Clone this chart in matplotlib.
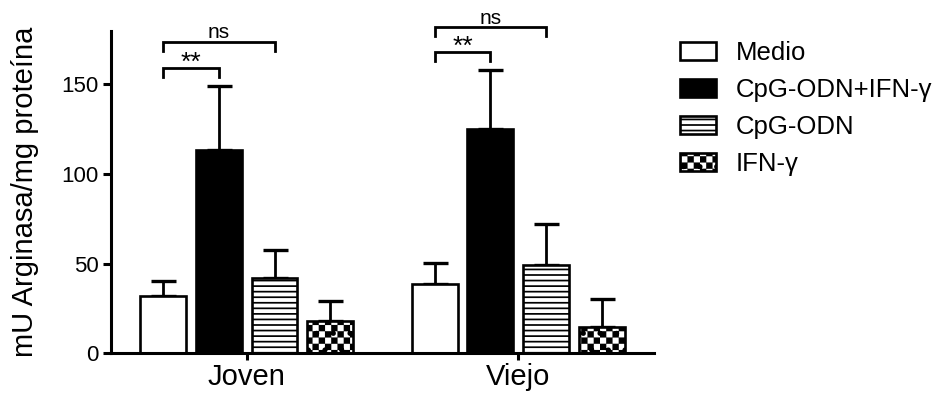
import numpy as np
import matplotlib
matplotlib.use("Agg")
import matplotlib.pyplot as plt
import matplotlib.hatch as mhatch
from matplotlib.path import Path

# ---- data -------------------------------------------------------------
groups = ["Joven", "Viejo"]
treatments = ["Medio", "CpG-ODN+IFN-γ", "CpG-ODN", "IFN-γ"]
mean_joven = [31.8, 113.3, 42.2, 18.1]
sem_joven = [8.5, 36.1, 15.2, 10.9]
mean_viejo = [38.9, 125.3, 49.0, 14.8]
sem_viejo = [11.4, 32.7, 23.2, 15.7]
yticks = [0, 50, 100, 150]
# significance brackets: (group, first bar, second bar, height, label)
brackets = [
    (0, 0, 1, 159.3, "**"),
    (0, 0, 2, 173.7, "ns"),
    (1, 0, 1, 168.1, "**"),
    (1, 0, 2, 181.8, "ns"),
]


# ---- checkerboard hatch (bound to the '.' hatch character) -------------
class CheckerHatch(mhatch.HatchPatternBase):
    cells = 16

    def __init__(self, hatch, density):
        self.active = "." in hatch
        self.num_vertices = (self.cells * self.cells // 2) * 5 if self.active else 0

    def set_vertices_and_codes(self, vertices, codes):
        n = self.cells
        s = 1.0 / n
        inset = 0.008  # compensates for the hatch stroke width
        verts = []
        for i in range(n):
            for j in range(n):
                if (i + j) % 2 == 0:
                    x0, y0 = i * s + inset, j * s + inset
                    x1, y1 = (i + 1) * s - inset, (j + 1) * s - inset
                    verts.extend([(x0, y0), (x1, y0), (x1, y1), (x0, y1), (x0, y0)])
        vertices[:] = np.array(verts)
        codes[:] = np.tile([Path.MOVETO, Path.LINETO, Path.LINETO,
                            Path.LINETO, Path.CLOSEPOLY], n * n // 2)


mhatch._hatch_types = [t for t in mhatch._hatch_types
                       if t is not mhatch.SmallCircles] + [CheckerHatch]

plt.rcParams["font.family"] = ["Liberation Sans", "DejaVu Sans"]
plt.rcParams["hatch.linewidth"] = 1.25

fig = plt.figure(figsize=(9.38, 3.93), dpi=100)
ax = fig.add_axes([0.1183, 0.101, 0.5789, 0.821])

step = 0.205
width = 0.169
offsets = (np.arange(4) - 1.5) * step
styles = [
    dict(facecolor="white"),
    dict(facecolor="black"),
    dict(facecolor="white", hatch="---"),
    dict(facecolor="white", hatch="."),
]

centers = np.arange(len(groups))
for k, name in enumerate(treatments):
    x = centers + offsets[k]
    h = [mean_joven[k], mean_viejo[k]]
    e = [sem_joven[k], sem_viejo[k]]
    ax.bar(x, h, width, edgecolor="black", linewidth=1.9, label=name,
           zorder=2, **styles[k])
    ax.errorbar(x, h, yerr=[[0, 0], e], fmt="none", ecolor="black",
                elinewidth=2.0, capsize=9, capthick=2.4, zorder=1)

# significance brackets
drop = 5
for g, a, b, y, lab in brackets:
    x1 = centers[g] + offsets[a]
    x2 = centers[g] + offsets[b]
    ax.plot([x1, x1, x2, x2], [y - drop, y, y, y - drop], color="black",
            lw=2.0, clip_on=False, solid_joinstyle="miter", zorder=3)
    if lab == "ns":
        ax.text((x1 + x2) / 2, y + 2.0, lab, ha="center", va="baseline",
                fontsize=15, clip_on=False)
    else:
        ax.text((x1 + x2) / 2, y - 1.0, lab, ha="center", va="baseline",
                fontsize=19, clip_on=False)

ax.set_xlim(-0.5, 1.5)
ax.set_ylim(0, 180)
ax.set_yticks(yticks)
ax.set_xticks(centers, groups)
for side in ("top", "right"):
    ax.spines[side].set_visible(False)
for side in ("left", "bottom"):
    ax.spines[side].set_linewidth(2.2)
ax.tick_params(axis="y", direction="out", length=6, width=2.2,
               labelsize=16, pad=3)
ax.tick_params(axis="x", direction="out", length=5, width=2.2,
               labelsize=21, pad=2)
ax.set_ylabel("mU Arginasa/mg proteína", fontsize=21)
ax.yaxis.set_label_coords(-0.133, 0.5)

ax.legend(loc="upper left", bbox_to_anchor=(680 / 938, 0.895),
          bbox_transform=fig.transFigure, frameon=False, fontsize=18.5,
          handlelength=1.42, handleheight=0.7, handletextpad=0.75,
          labelspacing=0.5, borderpad=0, borderaxespad=0)

fig.savefig("out.png", dpi=100)
